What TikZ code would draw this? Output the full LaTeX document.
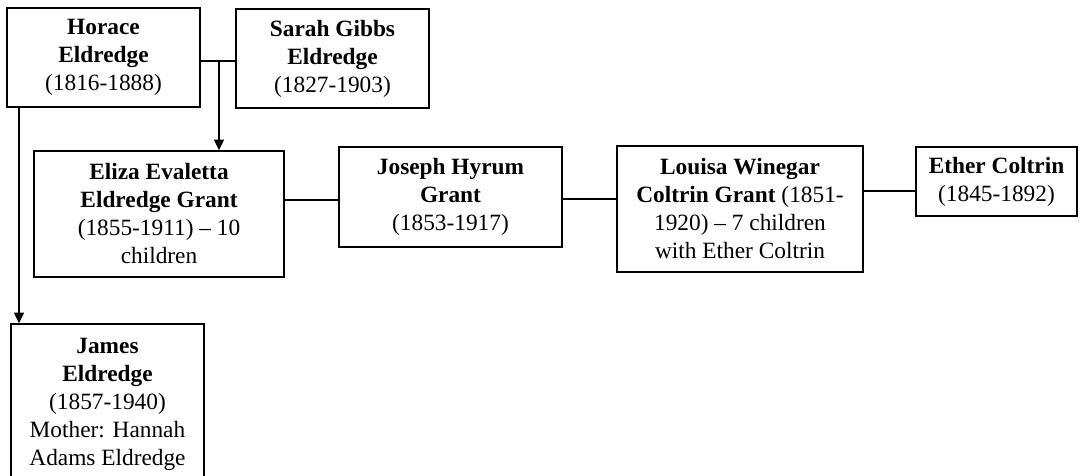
\documentclass[tikz,border=0pt]{standalone}
\usepackage{fontspec}
\setmainfont{Liberation Serif}
\usetikzlibrary{arrows.meta}
\begin{document}
\begin{tikzpicture}[x=0.75pt,y=-0.75pt,
  box/.style={draw, line width=1.1pt, align=center, inner sep=0pt, font=\fontsize{17.5}{21}\selectfont},
  link/.style={line width=1pt},
  arr/.style={line width=1pt, -{Triangle[width=7.5pt,length=8pt]}}]
\useasboundingbox (0,0) rectangle (1080,475);
\clip (0,0) rectangle (1080,475);
\node[box, minimum width=144.75pt, minimum height=74.25pt] (horace) at (103.5,57.5) {\textbf{Horace}\\\textbf{Eldredge}\\(1816-1888)};
\node[box, minimum width=144.75pt, minimum height=74.25pt] (sarah) at (332.5,58.5) {\textbf{Sarah Gibbs}\\\textbf{Eldredge}\\(1827-1903)};
\node[box, minimum width=187.5pt, minimum height=94.5pt] (eliza) at (159,214) {\textbf{Eliza Evaletta}\\\textbf{Eldredge Grant}\\(1855-1911) -- 10\\children};
\node[box, minimum width=167.25pt, minimum height=75pt] (joseph) at (450.5,197) {\textbf{Joseph Hyrum}\\\textbf{Grant}\\(1853-1917)};
\node[box, minimum width=184.5pt, minimum height=94.5pt] (louisa) at (740,209) {\textbf{Louisa Winegar}\\\textbf{Coltrin Grant} (1851-\\1920) -- 7 children\\with Ether Coltrin};
\node[box, minimum width=120.75pt, minimum height=51.75pt] (ether) at (996.5,181.5) {\textbf{Ether Coltrin}\\(1845-1892)};
\node[box, minimum width=144.75pt, minimum height=120pt] (james) at (107.5,404) {\textbf{James}\\\textbf{Eldredge}\\(1857-1940)\\Mother: Hannah\\Adams Eldredge};
\coordinate (m) at (219,61);
\coordinate (hl) at (19,107);
\coordinate (ej) at (310,200);
\coordinate (jl) at (590,199);
\coordinate (le) at (890,191);
\draw[link] (horace.east |- m) -- (sarah.west |- m);
\draw[arr] (m) -- (eliza.north -| m);
\draw[arr] (horace.south -| hl) -- (james.north -| hl);
\draw[link] (eliza.east |- ej) -- (joseph.west |- ej);
\draw[link] (joseph.east |- jl) -- (louisa.west |- jl);
\draw[link] (louisa.east |- le) -- (ether.west |- le);
\end{tikzpicture}
\end{document}
